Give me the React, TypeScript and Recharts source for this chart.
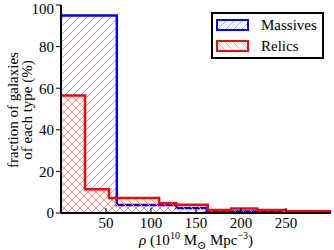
import React from 'react';
import { ComposedChart, Area, XAxis, YAxis, Legend } from 'recharts';

// Histogram bin edges (rho, 10^10 Msun Mpc^-3) and fractions (%)
const massiveEdges = [0, 62, 128, 162, 245];
const massiveValues = [95, 3.8, 2.4, 0.7];
const relicEdges = [0, 26.7, 53.3, 109, 128, 163, 189, 218, 250, 300];
const relicValues = [56.5, 11.4, 7.2, 4.7, 4.0, 1.5, 2.2, 1.4, 0.9];

const xTicks = [50, 100, 150, 200, 250];
const yTicks = [0, 20, 40, 60, 80, 100];
const yTicksRight = [20, 40, 60, 80];
const seriesNames = ['Massives', 'Relics'];
const seriesColors = ['#0000ff', '#ff0000'];
const X_MAX = 300;

const FONT = '"Liberation Serif", "DejaVu Serif", serif';

function stepValue(edges: number[], values: number[], x: number): number | null {
  const last = edges[edges.length - 1];
  if (x > last) return null;
  if (x === last) return last < X_MAX ? 0 : values[values.length - 1];
  let i = 0;
  while (i < values.length - 1 && x >= edges[i + 1]) i++;
  return values[i];
}

const allX = Array.from(new Set([...massiveEdges, ...relicEdges])).sort((a, b) => a - b);
const table = allX.map((x) => ({
  rho: x,
  massives: stepValue(massiveEdges, massiveValues, x),
  relics: stepValue(relicEdges, relicValues, x),
}));

const BottomTick = (props: any) => {
  const { x, y, payload } = props;
  return (
    <g>
      <line x1={x} y1={y} x2={x} y2={y - 5} stroke="#000" strokeWidth={1} />
      <text x={x} y={y + 15} textAnchor="middle" fontSize={15} fontFamily={FONT} fill="#000">
        {payload.value}
      </text>
    </g>
  );
};

const TopTick = (props: any) => {
  const { x, y } = props;
  return <line x1={x} y1={y} x2={x} y2={y + 6} stroke="#000" strokeWidth={1} />;
};

const RightTick = (props: any) => {
  const { x, y } = props;
  return <line x1={x} y1={y} x2={x - 6} y2={y} stroke="#000" strokeWidth={1} />;
};

const YLabel = () => (
  <g>
    <text transform="rotate(-90 17.5 110)" x={17.5} y={110} textAnchor="middle" fontSize={15} fontFamily={FONT} fill="#000">
      fraction of galaxies
    </text>
    <text transform="rotate(-90 32 110)" x={32} y={110} textAnchor="middle" fontSize={15} fontFamily={FONT} fill="#000">
      of each type (%)
    </text>
  </g>
);

const XLabel = () => (
  <text x={196} y={245} textAnchor="middle" fontSize={15} fontFamily={FONT} fill="#000">
    <tspan fontStyle="italic">ρ</tspan>
    <tspan>{'  (10'}</tspan>
    <tspan dy={-6} fontSize={10}>10</tspan>
    <tspan dy={6}>{' M'}</tspan>
    <tspan dy={4} fontSize={11}>⊙</tspan>
    <tspan dy={-4}>{' Mpc'}</tspan>
    <tspan dy={-6} fontSize={10}>−3</tspan>
    <tspan dy={6}>)</tspan>
  </text>
);

const LegendBox = () => (
  <svg width={113} height={47} style={{ display: 'block' }}>
    <rect x={1} y={1} width={111} height={45} fill="#fff" stroke="#000" strokeWidth={2} />
    {seriesNames.map((n, i) => (
      <g key={n}>
        <rect
          x={6}
          y={8 + i * 21}
          width={31}
          height={10}
          fill={`url(#hx-${i === 0 ? 'blue' : 'red'})`}
          stroke={seriesColors[i]}
          strokeWidth={2}
        />
        <text x={50} y={18 + i * 21} fontSize={15} fontFamily={FONT} fill="#000">
          {n}
        </text>
      </g>
    ))}
  </svg>
);

export default function App() {
  return (
    <div style={{ position: 'absolute', left: 0, top: 0, width: 334, height: 250, background: '#fff' }}>
      <svg width={1} height={1} style={{ position: 'absolute', left: 0, top: 0 }}>
        <defs>
          <pattern id="hx-blue" width="8" height="8" patternUnits="userSpaceOnUse">
            <path d="M-2,2 L2,-2 M0,8 L8,0 M6,10 L10,6" stroke="#9a9aff" strokeWidth="1" />
          </pattern>
          <pattern id="hx-red" width="8" height="8" patternUnits="userSpaceOnUse">
            <path d="M-2,6 L2,10 M0,0 L8,8 M6,-2 L10,2" stroke="#ff9a9a" strokeWidth="1" />
          </pattern>
        </defs>
      </svg>
      <ComposedChart width={334} height={250} data={table} margin={{ top: 5, right: 3, left: 0, bottom: 0 }}>
        <XAxis
          dataKey="rho"
          type="number"
          domain={[0, X_MAX]}
          ticks={xTicks}
          allowDataOverflow
          height={37}
          tickSize={0}
          tickMargin={0}
          tickLine={false}
          tick={BottomTick}
          axisLine={{ stroke: '#000', strokeWidth: 2 }}
          label={XLabel}
        />
        <XAxis
          xAxisId="top"
          orientation="top"
          dataKey="rho"
          type="number"
          domain={[0, X_MAX]}
          ticks={xTicks}
          allowDataOverflow
          height={0}
          tickSize={0}
          tickMargin={0}
          tickLine={false}
          tick={TopTick}
          axisLine={{ stroke: '#000', strokeWidth: 2 }}
        />
        <YAxis
          type="number"
          domain={[0, 100]}
          ticks={yTicks}
          allowDataOverflow
          width={61}
          tickSize={5}
          tickMargin={2}
          tickLine={{ stroke: '#000' }}
          tick={{ fill: '#000', fontSize: 15, fontFamily: FONT }}
          axisLine={{ stroke: '#000', strokeWidth: 2 }}
          label={YLabel}
        />
        <YAxis
          yAxisId="right"
          orientation="right"
          type="number"
          domain={[0, 100]}
          ticks={yTicksRight}
          allowDataOverflow
          width={0}
          tickSize={0}
          tickMargin={0}
          tickLine={false}
          tick={RightTick}
          axisLine={{ stroke: '#000', strokeWidth: 2 }}
        />
        <Area
          type="stepAfter"
          dataKey="massives"
          name={seriesNames[0]}
          stroke={seriesColors[0]}
          strokeWidth={2.5}
          fill="url(#hx-blue)"
          fillOpacity={1}
          dot={false}
          activeDot={false}
          isAnimationActive={false}
        />
        <Area
          type="stepAfter"
          dataKey="relics"
          name={seriesNames[1]}
          stroke={seriesColors[1]}
          strokeWidth={2.5}
          fill="url(#hx-red)"
          fillOpacity={1}
          dot={false}
          activeDot={false}
          isAnimationActive={false}
        />
        <Legend
          layout="vertical"
          align="center"
          verticalAlign="middle"
          content={LegendBox}
          wrapperStyle={{ position: 'absolute', left: 211, top: 12, width: 113, height: 47 }}
        />
      </ComposedChart>
    </div>
  );
}
